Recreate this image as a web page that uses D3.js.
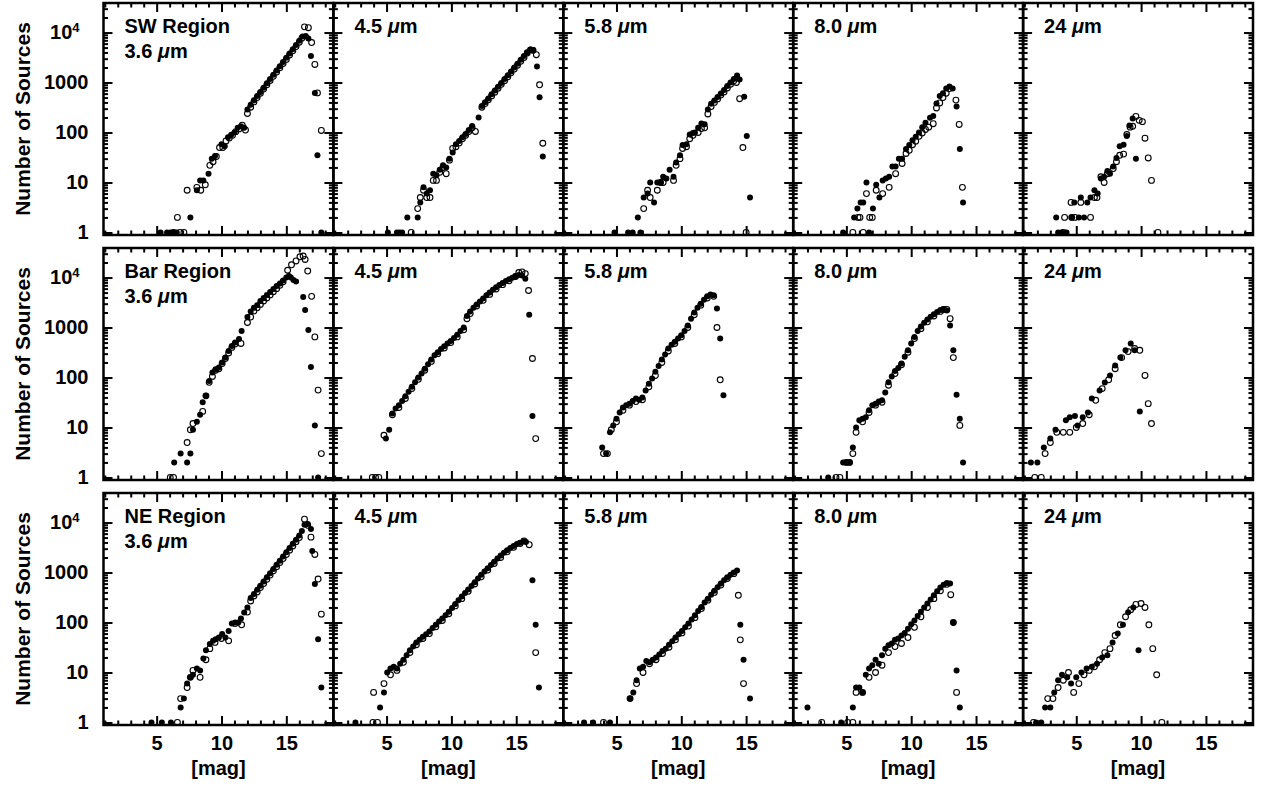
<!DOCTYPE html>
<html>
<head>
<meta charset="utf-8">
<script src="https://cdn.jsdelivr.net/npm/d3@7"></script>
<style>
  body { margin: 0; background: #fff; }
  text { font-family: "Liberation Sans", Arial, sans-serif; fill: #000; }
</style>
</head>
<body>
<div id="chart"></div>
<script>
// Data --------------------------------------------------------------------------------------------------------------
const regionNames = ["SW Region", "Bar Region", "NE Region"];
const bandNames = ["3.6", "4.5", "5.8", "8.0", "24"];
const xTickLabels = [5, 10, 15];
const yTickLabels = [1, 10, 100, 1000, 10000];

// [magnitude, number of sources]
const sw36Filled = [[5.3,1],[5.8,1],[6.05,1],[6.3,1],[6.55,1],[7.6,2],[8.1,7],[8.35,11],[8.6,11],[9.0,15],[9.25,30],[9.5,34],[10.0,58],[10.25,53],[10.5,80],[10.75,90],[11.0,100],[11.25,124],[11.5,134],[11.75,124],[12.0,290],[12.25,360],[12.5,440],[12.75,540],[13.0,650],[13.25,790],[13.5,970],[13.75,1180],[14.0,1430],[14.25,1740],[14.5,2110],[14.75,2570],[15.0,3130],[15.25,3800],[15.5,4620],[15.75,5620],[16.0,6840],[16.25,8300],[16.5,8500],[16.7,7600],[16.9,3400],[17.2,620],[17.4,35],[17.7,1]];
const sw36Open = [[6.3,1],[6.6,2],[6.8,1],[7.1,1],[7.35,7],[8.1,8],[8.4,7],[8.75,9],[9.1,22],[9.35,26],[9.6,33],[9.85,50],[10.1,50],[10.35,68],[10.6,78],[10.85,88],[11.1,104],[11.35,118],[11.6,140],[11.85,112],[12.0,240],[12.25,320],[12.5,410],[12.75,500],[13.0,610],[13.25,740],[13.5,900],[13.75,1100],[14.0,1330],[14.25,1620],[14.5,1970],[14.75,2400],[15.0,2900],[15.25,3550],[15.5,4300],[15.75,5250],[16.0,6400],[16.2,7700],[16.4,13000],[16.7,12500],[16.95,6300],[17.2,2300],[17.4,620],[17.7,110]];

const sw45Filled = [[5.1,1],[5.8,1],[6.0,1],[6.2,1],[6.6,2],[7.4,2],[7.6,4],[7.85,8],[8.1,6],[8.35,7],[8.6,15],[8.85,14],[9.1,18],[9.35,22],[9.6,20],[9.85,30],[10.1,40],[10.35,58],[10.6,68],[10.85,80],[11.1,93],[11.35,112],[11.6,135],[12.1,200],[12.35,340],[12.6,405],[12.85,480],[13.1,580],[13.35,690],[13.6,820],[13.85,980],[14.1,1170],[14.35,1400],[14.6,1670],[14.85,2000],[15.1,2380],[15.35,2840],[15.6,3400],[15.85,4050],[16.1,4600],[16.3,4500],[16.6,2100],[16.8,510],[17.05,33]];
const sw45Open = [[6.9,1],[7.4,3],[7.6,5],[7.85,7],[8.1,5],[8.35,5],[8.6,11],[8.85,11],[9.1,16],[9.35,20],[9.6,15],[9.85,28],[10.1,48],[10.35,52],[10.6,62],[10.85,75],[11.1,88],[11.35,105],[11.6,125],[11.85,105],[12.35,320],[12.6,380],[12.85,450],[13.1,540],[13.35,640],[13.6,770],[13.85,920],[14.1,1090],[14.35,1300],[14.6,1560],[14.85,1860],[15.1,2220],[15.35,2650],[15.6,3170],[15.85,3900],[16.1,4500],[16.3,4400],[16.55,3600],[16.8,900],[17.05,61]];

const sw58Filled = [[4.85,1],[5.9,1],[6.25,1],[6.85,1],[6.65,2],[7.1,5],[7.4,6],[7.6,10],[7.9,4],[8.15,10],[8.4,10],[8.6,13],[8.85,12],[9.1,18],[9.4,13],[9.6,25],[9.9,35],[10.1,56],[10.4,58],[10.65,91],[10.9,98],[11.05,100],[11.3,124],[11.55,152],[11.8,146],[12.05,290],[12.3,375],[12.55,437],[12.8,513],[13.05,603],[13.3,708],[13.55,851],[13.8,1000],[14.05,1175],[14.3,1380],[14.5,1150],[14.85,520],[15.05,85],[15.3,5]];
const sw58Open = [[15.0,1],[7.1,3],[7.4,7],[7.6,5],[8.15,7],[8.4,10],[8.6,10],[9.4,11],[9.6,22],[9.9,30],[10.1,48],[10.4,52],[10.65,75],[10.9,88],[11.3,100],[11.55,120],[11.8,124],[12.05,235],[12.3,330],[12.55,400],[12.8,470],[13.05,560],[13.3,650],[13.55,780],[13.8,920],[14.05,1080],[14.25,1000],[14.5,475],[14.75,50]];

const sw80Filled = [[4.75,1],[6.75,1],[5.6,2],[5.85,3],[6.1,4],[6.3,4],[6.55,10],[7.05,3],[7.3,9],[7.55,5],[7.8,11],[8.05,12],[8.3,13],[8.55,21],[8.8,21],[9.05,30],[9.3,30],[9.6,47],[9.85,56],[10.1,70],[10.35,82],[10.6,100],[10.85,128],[11.1,156],[11.45,197],[11.7,214],[11.95,380],[12.2,535],[12.45,610],[12.7,755],[12.95,830],[13.2,755],[13.5,330],[13.75,47],[14.0,4]];
const sw80Open = [[5.5,1],[6.3,1],[5.9,2],[6.05,2],[6.8,2],[7.0,2],[6.55,6],[7.3,7],[7.8,6],[8.3,8],[8.8,15],[9.3,24],[9.6,38],[9.85,44],[10.1,57],[10.35,67],[10.6,84],[10.85,98],[11.1,115],[11.35,128],[11.7,150],[11.95,310],[12.2,390],[12.45,500],[12.7,610],[12.95,755],[13.45,445],[13.7,145],[13.95,8]];

const sw24Filled = [[3.6,1],[3.85,1],[4.25,1],[3.45,2],[4.65,2],[5.2,2],[5.6,2],[4.85,4],[5.35,5],[5.85,4],[6.1,5],[6.4,7],[6.65,6],[6.9,12],[7.15,13],[7.4,17],[7.6,15],[7.85,21],[8.1,31],[8.35,53],[8.65,57],[8.9,85],[9.1,138],[9.35,190],[9.6,30]];
const sw24Open = [[4.0,1],[11.3,1],[4.1,2],[4.65,2],[4.9,2],[6.1,2],[4.6,4],[5.35,4],[6.4,5],[6.6,5],[6.9,13],[7.15,10],[7.4,15],[7.85,19],[8.1,26],[8.35,35],[8.65,37],[8.9,91],[9.15,128],[9.35,133],[9.6,210],[9.85,175],[10.1,165],[10.3,77],[10.55,31],[10.8,11]];

const bar36Filled = [[6.35,2],[6.85,3],[7.35,2],[7.6,3],[7.8,9],[8.1,13],[8.35,18],[8.55,32],[8.8,43],[9.05,85],[9.3,126],[9.55,147],[9.8,158],[10.05,200],[10.3,250],[10.55,340],[10.8,427],[11.05,500],[11.35,590],[11.55,850],[12.0,1620],[12.25,2090],[12.5,2500],[12.75,2800],[13.0,3400],[13.25,3890],[13.5,4470],[13.75,5130],[14.0,5890],[14.25,6760],[14.5,7590],[14.75,8710],[15.0,10000],[15.2,10700],[15.35,10000],[15.55,8900],[15.75,8300],[16.3,4100],[16.45,2240],[16.7,890],[16.9,163],[17.2,11],[17.45,1]];
const bar36Open = [[6.05,1],[6.3,1],[7.35,5],[7.6,9],[7.8,12],[8.55,21],[8.8,43],[9.05,80],[9.3,105],[9.55,140],[9.8,150],[10.05,190],[10.3,240],[10.55,310],[10.8,400],[11.05,470],[11.5,480],[12.0,1260],[12.25,1620],[12.5,2150],[12.75,2500],[13.0,2900],[13.25,3400],[13.5,3900],[13.75,4500],[14.0,5200],[14.25,6000],[14.5,7000],[14.75,8200],[15.1,14000],[15.4,18000],[15.75,21500],[16.05,26000],[16.3,27000],[16.45,23000],[16.65,13500],[16.95,4200],[17.2,650],[17.45,56],[17.7,3]];

const bar45Filled = [[4.95,6],[5.2,9],[5.45,19],[5.7,24],[5.95,28],[6.2,34],[6.45,42],[6.7,52],[6.95,65],[7.2,80],[7.45,100],[7.7,120],[7.95,150],[8.2,185],[8.45,230],[8.7,280],[8.95,320],[9.2,370],[9.45,420],[9.7,480],[9.95,540],[10.2,620],[10.45,720],[10.7,850],[10.95,1000],[11.2,1700],[11.45,2100],[11.7,2500],[11.95,2900],[12.2,3300],[12.45,3800],[12.7,4400],[12.95,5000],[13.2,5700],[13.45,6400],[13.7,7100],[13.95,7800],[14.2,8500],[14.45,9200],[14.7,9900],[14.95,10600],[15.2,11300],[15.45,11000],[15.7,9500],[16.0,1800],[16.25,17]];
const bar45Open = [[3.9,1],[4.15,1],[4.4,1],[4.8,7],[5.45,18],[5.95,25],[6.45,38],[6.95,60],[7.45,92],[7.95,140],[8.45,210],[8.95,300],[9.45,390],[9.95,500],[10.45,650],[10.95,900],[11.2,1500],[11.45,1900],[11.95,2700],[12.45,3500],[12.95,4600],[13.45,5900],[13.95,7200],[14.45,8600],[14.95,10500],[15.2,12600],[15.45,13000],[15.7,12000],[15.95,5500],[16.25,240],[16.5,6]];

const bar58Filled = [[3.9,4],[4.2,3],[4.5,8],[4.75,11],[5.0,15],[5.25,20],[5.5,25],[5.75,28],[6.0,30],[6.25,34],[6.5,38],[6.75,36],[7.0,40],[7.25,55],[7.5,75],[7.75,95],[8.0,130],[8.25,170],[8.5,230],[8.75,290],[9.0,380],[9.25,450],[9.5,520],[9.75,600],[10.0,700],[10.25,850],[10.5,1100],[10.75,1500],[11.0,2000],[11.25,2500],[11.5,3000],[11.75,3600],[12.0,4200],[12.25,4600],[12.5,4400],[12.75,2400],[13.0,600],[13.25,44]];
const bar58Open = [[4.0,3],[4.3,3],[4.6,9],[5.0,13],[5.5,22],[6.0,28],[6.5,33],[7.0,36],[7.5,65],[8.0,110],[8.5,200],[9.0,340],[9.5,480],[10.0,650],[10.5,1000],[11.0,1800],[11.5,2800],[12.0,3900],[12.5,4200],[12.75,1000],[13.0,90]];

const bar80Filled = [[3.6,1],[4.75,2],[5.0,2],[5.25,2],[5.5,4],[5.75,10],[6.0,14],[6.25,15],[6.5,16],[6.75,22],[7.0,28],[7.25,30],[7.5,33],[7.75,35],[8.0,50],[8.25,80],[8.5,105],[8.75,135],[9.0,155],[9.25,190],[9.5,260],[9.75,350],[10.0,480],[10.25,650],[10.5,850],[10.75,1050],[11.0,1250],[11.25,1450],[11.5,1650],[11.75,1850],[12.0,2050],[12.25,2250],[12.5,2350],[12.75,2200],[13.0,1100],[13.25,350],[13.5,45],[13.75,15],[14.0,2]];
const bar80Open = [[4.2,1],[4.5,1],[5.0,2],[5.25,2],[5.5,3],[5.75,8],[6.25,13],[6.75,20],[7.25,28],[7.75,32],[8.25,70],[8.75,120],[9.25,180],[9.75,320],[10.25,600],[10.75,950],[11.25,1300],[11.75,1700],[12.25,2100],[12.5,2300],[12.75,2300],[13.0,1500],[13.25,250],[13.75,11]];

const bar24Filled = [[1.5,2],[2.0,2],[2.5,4],[3.0,6],[3.4,9],[4.2,14],[4.5,16],[4.9,17],[5.1,11],[5.5,16],[5.9,20],[6.2,38],[6.8,55],[7.2,79],[7.6,110],[8.0,174],[8.4,250],[8.8,350],[9.2,480],[9.5,350],[9.9,21]];
const bar24Open = [[1.8,1],[2.3,1],[2.6,3],[3.0,5],[3.5,8],[4.0,8],[4.5,8],[5.0,10],[5.5,12],[6.0,18],[6.5,35],[7.0,60],[7.5,90],[8.0,150],[8.5,250],[9.0,330],[9.5,380],[9.9,350],[10.3,110],[10.55,30],[10.8,12]];

const ne36Filled = [[4.6,1],[5.4,1],[6.1,1],[6.85,2],[7.1,3],[7.35,6],[7.6,8],[7.8,9],[8.1,12],[8.35,11],[8.6,19],[8.8,28],[9.1,37],[9.35,43],[9.55,46],[9.8,50],[10.05,59],[10.3,50],[10.55,68],[10.8,95],[11.05,100],[11.3,100],[11.5,120],[11.75,158],[12.0,200],[12.25,309],[12.5,370],[12.75,450],[13.0,545],[13.25,660],[13.5,800],[13.75,970],[14.0,1180],[14.25,1430],[14.5,1730],[14.75,2100],[15.0,2550],[15.25,3100],[15.5,3750],[15.75,4550],[16.0,5500],[16.2,6800],[16.4,9000],[16.65,9300],[16.9,7400],[17.0,2700],[17.2,590],[17.45,46],[17.7,5]];
const ne36Open = [[6.6,1],[6.85,3],[7.35,5],[7.6,8],[7.8,11],[8.35,8],[8.8,18],[9.1,30],[9.5,40],[10.0,48],[10.55,43],[11.05,95],[11.55,90],[12.0,162],[12.25,270],[12.5,340],[12.75,410],[13.0,500],[13.25,600],[13.5,730],[13.75,890],[14.0,1080],[14.25,1300],[14.5,1580],[14.75,1900],[15.0,2300],[15.25,2800],[15.5,3400],[15.75,4150],[16.0,5000],[16.4,11700],[16.65,8800],[16.9,5100],[17.2,2300],[17.45,740],[17.7,147]];

const ne45Filled = [[2.6,1],[4.5,2],[4.8,4],[5.05,10],[5.3,12],[5.55,13],[5.8,12],[6.05,15],[6.3,18],[6.55,22],[6.8,28],[7.05,33],[7.3,40],[7.55,45],[7.8,52],[8.05,58],[8.3,66],[8.55,78],[8.8,90],[9.05,105],[9.3,120],[9.55,140],[9.8,165],[10.05,195],[10.3,235],[10.55,280],[10.8,330],[11.05,390],[11.3,460],[11.55,540],[11.8,640],[12.05,760],[12.3,900],[12.55,1050],[12.8,1220],[13.05,1420],[13.3,1650],[13.55,1900],[13.8,2200],[14.05,2500],[14.3,2800],[14.55,3100],[14.8,3400],[15.05,3700],[15.3,3950],[15.55,4200],[15.75,4100],[16.25,700],[16.5,90],[16.75,5]];
const ne45Open = [[3.95,1],[4.3,1],[4.0,4],[4.8,6],[5.3,9],[5.8,11],[6.3,16],[6.8,25],[7.3,36],[7.8,48],[8.3,60],[8.8,82],[9.3,110],[9.8,150],[10.3,215],[10.8,300],[11.3,420],[11.8,590],[12.3,820],[12.8,1120],[13.3,1520],[13.8,2000],[14.3,2600],[14.8,3200],[15.3,3800],[15.6,4300],[16.0,3600],[16.5,25]];

const ne58Filled = [[2.5,1],[3.2,1],[4.5,1],[6.05,3],[6.3,4],[6.55,7],[6.8,12],[7.05,13],[7.3,17],[7.55,16],[7.8,18],[8.05,20],[8.3,23],[8.55,27],[8.8,30],[9.05,36],[9.3,42],[9.55,50],[9.8,58],[10.05,68],[10.3,80],[10.55,95],[10.8,115],[11.05,140],[11.3,170],[11.55,205],[11.8,250],[12.05,300],[12.3,360],[12.55,430],[12.8,510],[13.05,600],[13.3,700],[13.55,800],[13.8,900],[14.05,1000],[14.3,1100],[14.55,90],[14.8,18],[15.3,3]];
const ne58Open = [[4.0,1],[6.05,3],[6.55,6],[7.05,10],[7.55,15],[8.05,18],[8.55,24],[9.05,32],[9.55,45],[10.05,62],[10.55,85],[11.05,125],[11.55,190],[12.05,280],[12.55,400],[13.05,560],[13.55,760],[14.05,950],[14.4,350],[14.55,45],[14.8,6]];

const ne80Filled = [[2.0,2],[4.6,1],[5.5,2],[5.75,5],[6.0,5],[6.25,4],[6.5,9],[6.75,12],[7.0,14],[7.25,18],[7.5,15],[7.75,22],[8.0,30],[8.25,35],[8.5,38],[8.75,45],[9.0,48],[9.25,55],[9.5,62],[9.75,75],[10.0,92],[10.25,110],[10.5,135],[10.75,165],[11.0,200],[11.25,240],[11.5,290],[11.75,350],[12.0,420],[12.25,500],[12.5,570],[12.75,620],[13.0,600],[13.25,100],[13.5,11],[13.75,2]];
const ne80Open = [[3.1,1],[5.1,1],[5.5,1],[5.75,4],[6.25,4],[6.75,8],[7.25,10],[7.75,14],[8.25,25],[8.75,33],[9.25,38],[9.75,50],[10.25,80],[10.75,130],[11.25,200],[11.75,300],[12.25,430],[12.75,580],[13.05,360],[13.25,100],[13.5,4]];

const ne24Filled = [[1.9,1],[2.3,1],[2.6,2],[3.0,2],[3.3,4],[3.6,7],[3.9,9],[4.3,8],[4.6,6],[5.0,8],[5.4,10],[5.8,12],[6.2,13],[6.6,15],[7.0,20],[7.4,22],[7.8,40],[8.2,60],[8.6,90],[9.0,160],[9.4,200],[9.8,28]];
const ne24Open = [[1.7,1],[2.8,3],[3.2,3],[3.6,5],[4.0,7],[4.4,10],[4.8,4],[5.2,6],[5.6,9],[6.0,11],[6.4,13],[6.8,18],[7.2,25],[7.6,30],[8.0,55],[8.4,90],[8.8,130],[9.2,180],[9.6,230],[10.0,240],[10.3,200],[10.6,90],[10.9,30],[11.2,9],[11.6,1]];

// Panel table: rows are regions, columns are bands
const panelData = [
  [[sw36Filled, sw36Open], [sw45Filled, sw45Open], [sw58Filled, sw58Open], [sw80Filled, sw80Open], [sw24Filled, sw24Open]],
  [[bar36Filled, bar36Open], [bar45Filled, bar45Open], [bar58Filled, bar58Open], [bar80Filled, bar80Open], [bar24Filled, bar24Open]],
  [[ne36Filled, ne36Open], [ne45Filled, ne45Open], [ne58Filled, ne58Open], [ne80Filled, ne80Open], [ne24Filled, ne24Open]]
];

// Canvas ------------------------------------------------------------------------------------------------------------
const canvasWidth = 1262;
const canvasHeight = 788;
const leftPadding = 103.5;
const panelWidth = 229.9;
const panelHeight = 232;
const rowTops = [3, 248, 493];

const majorTick = 9;
const minorTick = 4.5;
const labelFontSize = 20;

const svg = d3.select("#chart")
  .append("svg")
  .attr("width", canvasWidth)
  .attr("height", canvasHeight)
  .attr("viewBox", [0, 0, canvasWidth, canvasHeight]);

svg.append("rect")
  .attr("width", canvasWidth)
  .attr("height", canvasHeight)
  .attr("fill", "#fff");

const xScale = d3.scaleLinear()
  .domain([0.9, 18.63])
  .range([0, panelWidth]);
const yScale = d3.scaleLog()
  .domain([0.89, 39000])
  .range([panelHeight, 0]);

const xMinor = d3.range(1, 19).filter(v => v % 5 !== 0);
const yMinor = [];
[1, 10, 100, 1000, 10000].forEach(function(decade) {
  for (let k = 2; k <= 9; k++) {
    if (decade * k < 39000) yMinor.push(decade * k);
  }
});

function styleAxis(g) {
  g.select(".domain").remove();
  g.selectAll("line").attr("stroke", "#000").attr("stroke-width", 2);
  g.selectAll("text").remove();
}

regionNames.forEach(function(region, row) {
  bandNames.forEach(function(band, col) {
    const panel = svg.append("g")
      .attr("transform", "translate(" + (leftPadding + col * panelWidth) + "," + rowTops[row] + ")");

    // ticks on all four sides, pointing inward
    panel.append("g").attr("transform", "translate(0," + panelHeight + ")")
      .call(d3.axisBottom(xScale).tickValues(xMinor).tickSize(-minorTick)).call(styleAxis);
    panel.append("g").attr("transform", "translate(0," + panelHeight + ")")
      .call(d3.axisBottom(xScale).tickValues(xTickLabels).tickSize(-majorTick)).call(styleAxis);
    panel.append("g")
      .call(d3.axisTop(xScale).tickValues(xMinor).tickSize(-minorTick)).call(styleAxis);
    panel.append("g")
      .call(d3.axisTop(xScale).tickValues(xTickLabels).tickSize(-majorTick)).call(styleAxis);
    panel.append("g")
      .call(d3.axisLeft(yScale).tickValues(yMinor).tickSize(-minorTick)).call(styleAxis);
    panel.append("g")
      .call(d3.axisLeft(yScale).tickValues(yTickLabels).tickSize(-majorTick)).call(styleAxis);
    panel.append("g").attr("transform", "translate(" + panelWidth + ",0)")
      .call(d3.axisRight(yScale).tickValues(yMinor).tickSize(-minorTick)).call(styleAxis);
    panel.append("g").attr("transform", "translate(" + panelWidth + ",0)")
      .call(d3.axisRight(yScale).tickValues(yTickLabels).tickSize(-majorTick)).call(styleAxis);

    // points
    const [filled, open] = panelData[row][col];
    panel.append("g").selectAll("circle")
      .data(filled)
      .enter()
      .append("circle")
      .attr("cx", d => xScale(d[0]))
      .attr("cy", d => yScale(d[1]))
      .attr("r", 3)
      .attr("fill", "#000");
    panel.append("g").selectAll("circle")
      .data(open)
      .enter()
      .append("circle")
      .attr("cx", d => xScale(d[0]))
      .attr("cy", d => yScale(d[1]))
      .attr("r", 2.9)
      .attr("fill", "none")
      .attr("stroke", "#000")
      .attr("stroke-width", 1.1);

    // frame
    panel.append("rect")
      .attr("width", panelWidth)
      .attr("height", panelHeight)
      .attr("fill", "none")
      .attr("stroke", "#000")
      .attr("stroke-width", 2.5);

    // panel label
    const label = panel.append("text")
      .attr("x", 21)
      .attr("y", 30)
      .style("font-size", labelFontSize + "px")
      .style("font-weight", "bold");
    if (col === 0) {
      label.append("tspan").text(region);
      const second = label.append("tspan").attr("x", 21).attr("dy", 25);
      second.append("tspan").text(band + " ");
      second.append("tspan").style("font-style", "italic").text("\u03bc");
      second.append("tspan").text("m");
    } else {
      label.append("tspan").text(band + " ");
      label.append("tspan").style("font-style", "italic").text("\u03bc");
      label.append("tspan").text("m");
    }

    // y tick labels on the first column
    if (col === 0) {
      const yAxis = panel.append("g")
        .call(d3.axisLeft(yScale).tickValues(yTickLabels).tickSize(0).tickPadding(15)
          .tickFormat(d => d === 10000 ? "10" : d3.format("d")(d)));
      yAxis.select(".domain").remove();
      yAxis.selectAll("text")
        .style("font-size", labelFontSize + "px")
        .style("font-weight", "bold")
        .attr("font-family", null);
      yAxis.selectAll("text")
        .filter(d => d === 10000)
        .attr("dx", "-0.45em")
        .append("tspan")
        .attr("dy", "-0.55em")
        .style("font-size", "13px")
        .text("4");

      svg.append("text")
        .attr("transform", "translate(30," + (rowTops[row] + panelHeight / 2) + ") rotate(-90)")
        .style("text-anchor", "middle")
        .style("font-size", "21px")
        .style("font-weight", "bold")
        .text("Number of Sources");
    }

    // x tick labels on the bottom row
    if (row === regionNames.length - 1) {
      const xAxis = panel.append("g")
        .attr("transform", "translate(0," + panelHeight + ")")
        .call(d3.axisBottom(xScale).tickValues(xTickLabels).tickSize(0).tickPadding(11));
      xAxis.select(".domain").remove();
      xAxis.selectAll("text")
        .style("font-size", labelFontSize + "px")
        .style("font-weight", "bold")
        .attr("font-family", null);

      panel.append("text")
        .attr("x", panelWidth / 2)
        .attr("y", panelHeight + 50)
        .style("text-anchor", "middle")
        .style("font-size", labelFontSize + "px")
        .style("font-weight", "bold")
        .text("[mag]");
    }
  });
});
</script>
</body>
</html>
